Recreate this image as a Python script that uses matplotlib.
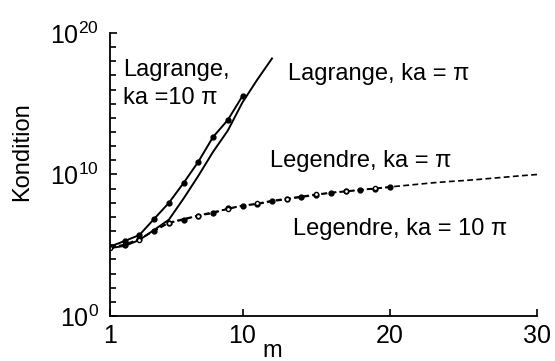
import numpy as np
import matplotlib
matplotlib.use("Agg")
import matplotlib.pyplot as plt
from matplotlib.ticker import FixedLocator, FuncFormatter

plt.rcParams['font.family'] = ['Liberation Sans', 'DejaVu Sans']
plt.rcParams['mathtext.fontset'] = 'custom'
plt.rcParams['mathtext.rm'] = 'Liberation Sans'
plt.rcParams['mathtext.it'] = 'Liberation Sans:italic'

# log10 of the condition number
m_lag_a = [1, 2, 3, 4, 5, 6, 7, 8, 9, 10]
log_lag_a = [4.9, 5.3, 5.72, 6.86, 7.99, 9.4, 10.9, 12.65, 13.85, 15.55]

m_lag_b = [1, 2, 3, 4, 5, 6, 7, 8, 9, 10, 11, 12]
log_lag_b = [4.8, 4.95, 5.37, 6.08, 6.8, 8.3, 9.9, 11.6, 13.1, 15.1, 16.7, 18.2]

m_leg_a = list(range(1, 21))
log_leg_a = [4.85, 5.05, 5.45, 6.0, 6.57, 6.8, 7.1, 7.25, 7.6, 7.8,
             7.9, 8.1, 8.25, 8.4, 8.55, 8.7, 8.8, 8.9, 9.0, 9.1]

m_leg_b = list(range(1, 31))
log_leg_b = [4.8, 5.0, 5.4, 6.05, 6.6, 6.86, 7.1, 7.35, 7.55, 7.8,
             7.95, 8.15, 8.3, 8.45, 8.6, 8.72, 8.82, 8.92, 9.02, 9.12,
             9.22, 9.32, 9.42, 9.5, 9.57, 9.65, 9.74, 9.83, 9.92, 10.0]

fig = plt.figure(figsize=(5.55, 3.61), dpi=100)
ax = fig.add_axes([0.198, 0.1247, 0.77, 0.7839])

ax.plot(m_lag_a, 10 ** np.array(log_lag_a), 'k-', lw=1.4, marker='o', ms=3.5)
ax.plot(m_lag_b, 10 ** np.array(log_lag_b), 'k-', lw=1.4)
ax.plot(m_leg_a, 10 ** np.array(log_leg_a), 'k--', lw=1.2, dashes=(3.5, 2),
        marker='o', ms=3.5)
ax.plot(m_leg_b, 10 ** np.array(log_leg_b), 'k--', lw=1.2, dashes=(3.5, 2),
        marker='o', ms=3, mfc='white', markevery=slice(0, 20, 2))

ax.set_yscale('log')
ax.set_xlim(1, 30)
ax.set_ylim(1, 1e20)
ax.xaxis.set_major_locator(FixedLocator([1, 10, 20, 30]))
ax.yaxis.set_major_locator(FixedLocator([1, 1e10, 1e20]))
ax.yaxis.set_minor_locator(FixedLocator([10.0 ** k for k in range(21)]))
ax.yaxis.set_minor_formatter(FuncFormatter(lambda v, p: ''))
ax.yaxis.set_major_formatter(FuncFormatter(
    lambda v, p: r'$10^{%d}$' % round(np.log10(v))))

for s in ['top', 'right']:
    ax.spines[s].set_visible(False)
for s in ['left', 'bottom']:
    ax.spines[s].set_linewidth(1.3)
ax.tick_params(which='both', direction='in', labelsize=18, width=1.2)
ax.tick_params(which='major', length=5)
ax.tick_params(which='minor', length=4)
ax.tick_params(axis='x', pad=6)
ax.tick_params(axis='y', pad=8)

ax.set_xlabel('m', fontsize=17)
ax.xaxis.set_label_coords(0.38, -0.085)
ax.set_ylabel('Kondition', fontsize=17)
ax.yaxis.set_label_coords(-0.18, 0.58)

fs = 17
ax.text(1.88, 10 ** 16.96, 'Lagrange,', fontsize=fs, va='baseline')
ax.text(1.88, 10 ** 14.98, 'ka =10 π', fontsize=fs, va='baseline')
ax.text(13.1, 10 ** 16.7, 'Lagrange, ka = π', fontsize=fs, va='baseline')
ax.text(11.87, 10 ** 10.53, 'Legendre, ka = π', fontsize=fs, va='baseline')
ax.text(13.43, 10 ** 5.72, 'Legendre, ka = 10 π', fontsize=fs, va='baseline')

fig.savefig('out.png', dpi=100)
